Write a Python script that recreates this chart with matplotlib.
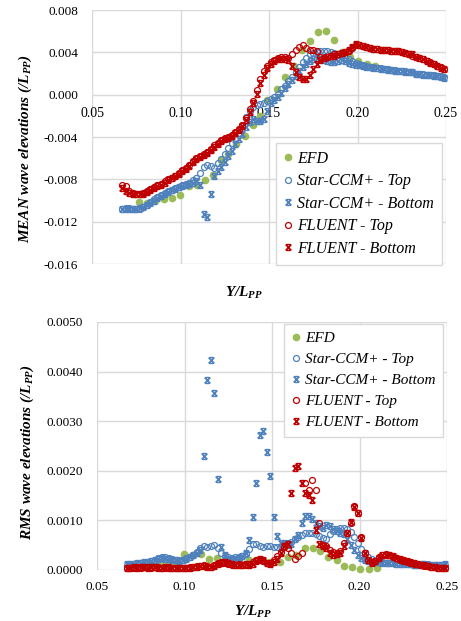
import numpy as np
import matplotlib
matplotlib.use('Agg')
import matplotlib.pyplot as plt
from matplotlib.path import Path

plt.rcParams['font.family'] = ['Liberation Serif', 'DejaVu Serif']
plt.rcParams['mathtext.fontset'] = 'custom'
plt.rcParams['mathtext.it'] = 'Liberation Serif:italic:bold'
plt.rcParams['mathtext.rm'] = 'Liberation Serif:italic:bold'
plt.rcParams['mathtext.bf'] = 'Liberation Serif:italic:bold'

# ---------------- data ----------------
X = [0.067, 0.069, 0.071, 0.073, 0.075, 0.077, 0.079, 0.081, 0.083, 0.085,
     0.087, 0.089, 0.091, 0.093, 0.095, 0.097, 0.099, 0.101, 0.103, 0.105,
     0.107, 0.109, 0.111, 0.113, 0.115, 0.117, 0.119, 0.121, 0.123, 0.125,
     0.127, 0.129, 0.131, 0.133, 0.135, 0.137, 0.139, 0.141, 0.143, 0.145,
     0.147, 0.149, 0.151, 0.153, 0.155, 0.157, 0.159, 0.161, 0.163, 0.165,
     0.167, 0.169, 0.171, 0.173, 0.175, 0.177, 0.179, 0.181, 0.183, 0.185,
     0.187, 0.189, 0.191, 0.193, 0.195, 0.197, 0.199, 0.201, 0.203, 0.205,
     0.207, 0.209, 0.211, 0.213, 0.215, 0.217, 0.219, 0.221, 0.223, 0.225,
     0.227, 0.229, 0.231, 0.233, 0.235, 0.237, 0.239, 0.241, 0.243, 0.245,
     0.247, 0.249]

EFD_X = [0.0767, 0.0812, 0.0858, 0.0905, 0.0952, 0.0999, 0.1046, 0.1093, 0.1139, 0.1185,
         0.1227, 0.1270, 0.1314, 0.1366, 0.1408, 0.1449, 0.1490, 0.1543, 0.1592, 0.1639,
         0.1686, 0.1733, 0.1775, 0.1822, 0.1869, 0.1911, 0.1958, 0.2001, 0.2052, 0.2100]

# MEAN wave elevations
EFD_MEAN = [-0.0101, -0.0102, -0.0100, -0.0099, -0.0098, -0.0095, -0.0086, -0.0085, -0.0081, -0.0076,
            -0.0062, -0.0056, -0.0047, -0.0039, -0.0029, -0.0020, -0.0005, 0.0005, 0.0017, 0.0027,
            0.0042, 0.0051, 0.0059, 0.0060, 0.0052, 0.0040, 0.0036, 0.0032, 0.0029, 0.0027]

STAR_TOP_MEAN = [-0.0108, -0.0107, -0.0107, -0.0108, -0.0108, -0.0108, -0.0106, -0.0104, -0.0101, -0.0099,
                 -0.0097, -0.0095, -0.0093, -0.0091, -0.0090, -0.0088, -0.0087, -0.0085, -0.0084, -0.0083,
                 -0.0081, -0.0079, -0.0074, -0.0068, -0.0066, -0.0067, -0.0069, -0.0065, -0.0061, -0.0056,
                 -0.0050, -0.0046, -0.0041, -0.0036, -0.0030, -0.0021, -0.0015, -0.0012, -0.0010, -0.0009,
                 -0.0008, -0.0006, -0.0004, -0.0002, 0.0001, 0.0005, 0.0008, 0.0013, 0.0017, 0.0021,
                 0.0026, 0.0031, 0.0035, 0.0038, 0.0039, 0.0040, 0.0041, 0.0041, 0.0041, 0.0040,
                 0.0039, 0.0038, 0.0037, 0.0035, 0.0034, 0.0032, 0.0030, 0.0029, 0.0028, 0.0027,
                 0.0026, 0.0026, 0.0025, 0.0025, 0.0024, 0.0024, 0.0023, 0.0023, 0.0022, 0.0022,
                 0.0022, 0.0021, 0.0021, 0.0020, 0.0020, 0.0020, 0.0019, 0.0019, 0.0019, 0.0018,
                 0.0018, 0.0017]

STAR_BOT_MEAN = [-0.0108, -0.0108, -0.0108, -0.0108, -0.0108, -0.0107, -0.0106, -0.0104, -0.0102, -0.0100,
                 -0.0098, -0.0096, -0.0094, -0.0092, -0.0090, -0.0089, -0.0087, -0.0086, -0.0085, -0.0084,
                 -0.0083, -0.0082, -0.0085, -0.0113, -0.0116, -0.0094, -0.0077, -0.0072, -0.0068, -0.0064,
                 -0.0058, -0.0053, -0.0047, -0.0042, -0.0037, -0.0031, -0.0026, -0.0023, -0.0025, -0.0025,
                 -0.0023, -0.0015, -0.0008, -0.0005, -0.0002, 0.0002, 0.0006, 0.0010, 0.0014, 0.0018,
                 0.0022, 0.0026, 0.0029, 0.0032, 0.0034, 0.0035, 0.0034, 0.0033, 0.0032, 0.0031,
                 0.0031, 0.0032, 0.0033, 0.0032, 0.0030, 0.0029, 0.0028, 0.0028, 0.0027, 0.0026,
                 0.0026, 0.0025, 0.0025, 0.0024, 0.0024, 0.0023, 0.0023, 0.0022, 0.0022, 0.0022,
                 0.0021, 0.0021, 0.0021, 0.0020, 0.0020, 0.0019, 0.0019, 0.0019, 0.0018, 0.0018,
                 0.0017, 0.0016]

FLU_TOP_MEAN = [-0.0085, -0.0086, -0.0091, -0.0093, -0.0094, -0.0094, -0.0093, -0.0091, -0.0089, -0.0087,
                -0.0085, -0.0084, -0.0082, -0.0080, -0.0079, -0.0077, -0.0074, -0.0071, -0.0069, -0.0066,
                -0.0063, -0.0060, -0.0058, -0.0056, -0.0054, -0.0051, -0.0048, -0.0046, -0.0043, -0.0041,
                -0.0040, -0.0038, -0.0035, -0.0032, -0.0029, -0.0022, -0.0014, -0.0006, 0.0004, 0.0015,
                0.0022, 0.0027, 0.0031, 0.0033, 0.0035, 0.0036, 0.0036, 0.0035, 0.0038, 0.0042,
                0.0045, 0.0047, 0.0044, 0.0042, 0.0042, 0.0041, 0.0036, 0.0035, 0.0036, 0.0037,
                0.0038, 0.0038, 0.0039, 0.0040, 0.0041, 0.0044, 0.0047, 0.0047, 0.0046, 0.0045,
                0.0044, 0.0043, 0.0043, 0.0042, 0.0042, 0.0042, 0.0041, 0.0041, 0.0041, 0.0040,
                0.0039, 0.0038, 0.0037, 0.0036, 0.0035, 0.0034, 0.0032, 0.0031, 0.0029, 0.0027,
                0.0026, 0.0024]

FLU_BOT_MEAN = [-0.0088, -0.0091, -0.0093, -0.0094, -0.0094, -0.0094, -0.0094, -0.0092, -0.0090, -0.0088,
                -0.0086, -0.0085, -0.0083, -0.0081, -0.0079, -0.0077, -0.0075, -0.0072, -0.0070, -0.0067,
                -0.0064, -0.0061, -0.0059, -0.0057, -0.0055, -0.0052, -0.0049, -0.0047, -0.0044, -0.0042,
                -0.0041, -0.0039, -0.0036, -0.0033, -0.0030, -0.0024, -0.0016, -0.0008, 0.0001, 0.0011,
                0.0019, 0.0025, 0.0029, 0.0032, 0.0034, 0.0034, 0.0034, 0.0033, 0.0027, 0.0021,
                0.0017, 0.0015, 0.0015, 0.0019, 0.0024, 0.0029, 0.0033, 0.0035, 0.0036, 0.0037,
                0.0037, 0.0038, 0.0039, 0.0040, 0.0042, 0.0045, 0.0048, 0.0047, 0.0046, 0.0045,
                0.0044, 0.0043, 0.0043, 0.0042, 0.0042, 0.0042, 0.0041, 0.0041, 0.0041, 0.0040,
                0.0039, 0.0038, 0.0038, 0.0036, 0.0035, 0.0034, 0.0032, 0.0030, 0.0029, 0.0027,
                0.0025, 0.0024]

# RMS wave elevations
EFD_RMS = [0.00010, 0.00010, 0.00012, 0.00012, 0.00015, 0.00032, 0.00030, 0.00032, 0.00023, 0.00025,
           0.00018, 0.00015, 0.00018, 0.00020, 0.00020, 0.00018, 0.00016, 0.00017, 0.00027, 0.00030,
           0.00044, 0.00045, 0.00038, 0.00027, 0.00020, 0.00009, 0.00006, 0.00003, 0.00003, 0.00004]

STAR_TOP_RMS = [0.00010, 0.00011, 0.00012, 0.00013, 0.00014, 0.00015, 0.00017, 0.00019, 0.00021, 0.00024,
                0.00026, 0.00026, 0.00025, 0.00023, 0.00021, 0.00020, 0.00021, 0.00024, 0.00027, 0.00031,
                0.00036, 0.00044, 0.00048, 0.00046, 0.00048, 0.00051, 0.00045, 0.00035, 0.00029, 0.00026,
                0.00025, 0.00026, 0.00027, 0.00029, 0.00033, 0.00042, 0.00052, 0.00053, 0.00049, 0.00047,
                0.00048, 0.00049, 0.00047, 0.00047, 0.00048, 0.00052, 0.00055, 0.00057, 0.00062, 0.00067,
                0.00071, 0.00074, 0.00075, 0.00074, 0.00073, 0.00069, 0.00065, 0.00063, 0.00072, 0.00079,
                0.00083, 0.00085, 0.00085, 0.00082, 0.00076, 0.00067, 0.00055, 0.00042, 0.00034, 0.00027,
                0.00022, 0.00019, 0.00017, 0.00016, 0.00015, 0.00014, 0.00014, 0.00013, 0.00013, 0.00012,
                0.00012, 0.00012, 0.00011, 0.00011, 0.00011, 0.00012, 0.00012, 0.00011, 0.00011, 0.00010,
                0.00010, 0.00011]

STAR_BOT_RMS = [0.00012, 0.00012, 0.00013, 0.00014, 0.00015, 0.00016, 0.00017, 0.00019, 0.00021, 0.00023,
                0.00024, 0.00023, 0.00022, 0.00021, 0.00020, 0.00019, 0.00020, 0.00022, 0.00026, 0.00030,
                0.00035, 0.00040, 0.00230, 0.00383, 0.00423, 0.00356, 0.00183, 0.00046, 0.00030, 0.00022,
                0.00020, 0.00022, 0.00025, 0.00028, 0.00035, 0.00060, 0.00107, 0.00175, 0.00272, 0.00280,
                0.00238, 0.00189, 0.00107, 0.00068, 0.00055, 0.00055, 0.00050, 0.00052, 0.00062, 0.00070,
                0.00095, 0.00108, 0.00108, 0.00102, 0.00095, 0.00088, 0.00085, 0.00090, 0.00088, 0.00082,
                0.00078, 0.00075, 0.00072, 0.00062, 0.00050, 0.00040, 0.00030, 0.00024, 0.00020, 0.00018,
                0.00017, 0.00016, 0.00016, 0.00015, 0.00015, 0.00014, 0.00014, 0.00013, 0.00013, 0.00012,
                0.00012, 0.00012, 0.00011, 0.00011, 0.00012, 0.00012, 0.00011, 0.00011, 0.00010, 0.00010,
                0.00010, 0.00012]

FLU_TOP_RMS = [0.00004, 0.00005, 0.00005, 0.00006, 0.00005, 0.00006, 0.00006, 0.00005, 0.00006, 0.00006,
               0.00005, 0.00005, 0.00006, 0.00005, 0.00004, 0.00005, 0.00004, 0.00005, 0.00006, 0.00007,
               0.00008, 0.00009, 0.00010, 0.00008, 0.00007, 0.00010, 0.00014, 0.00016, 0.00015, 0.00013,
               0.00011, 0.00011, 0.00012, 0.00010, 0.00011, 0.00012, 0.00016, 0.00020, 0.00021, 0.00018,
               0.00014, 0.00015, 0.00020, 0.00028, 0.00037, 0.00047, 0.00045, 0.00035, 0.00022, 0.00028,
               0.00034, 0.00176, 0.00161, 0.00181, 0.00162, 0.00094, 0.00050, 0.00048, 0.00040, 0.00036,
               0.00035, 0.00038, 0.00054, 0.00074, 0.00095, 0.00130, 0.00114, 0.00067, 0.00035, 0.00020,
               0.00016, 0.00019, 0.00026, 0.00031, 0.00032, 0.00030, 0.00027, 0.00024, 0.00021, 0.00019,
               0.00017, 0.00015, 0.00013, 0.00012, 0.00010, 0.00009, 0.00008, 0.00007, 0.00006, 0.00005,
               0.00005, 0.00004]

FLU_BOT_RMS = [0.00005, 0.00005, 0.00006, 0.00005, 0.00006, 0.00006, 0.00005, 0.00006, 0.00006, 0.00005,
               0.00005, 0.00006, 0.00005, 0.00004, 0.00005, 0.00004, 0.00004, 0.00005, 0.00005, 0.00006,
               0.00007, 0.00008, 0.00008, 0.00007, 0.00006, 0.00009, 0.00012, 0.00015, 0.00016, 0.00014,
               0.00012, 0.00010, 0.00010, 0.00011, 0.00012, 0.00010, 0.00013, 0.00018, 0.00022, 0.00020,
               0.00015, 0.00013, 0.00016, 0.00022, 0.00035, 0.00048, 0.00052, 0.00156, 0.00205, 0.00210,
               0.00176, 0.00156, 0.00152, 0.00142, 0.00080, 0.00052, 0.00048, 0.00045, 0.00035, 0.00030,
               0.00032, 0.00035, 0.00048, 0.00074, 0.00097, 0.00128, 0.00114, 0.00064, 0.00035, 0.00020,
               0.00015, 0.00018, 0.00025, 0.00030, 0.00031, 0.00030, 0.00028, 0.00025, 0.00022, 0.00020,
               0.00018, 0.00016, 0.00014, 0.00012, 0.00011, 0.00010, 0.00008, 0.00007, 0.00006, 0.00005,
               0.00005, 0.00005]

SERIES = ['EFD', 'Star-CCM+ - Top', 'Star-CCM+ - Bottom', 'FLUENT - Top', 'FLUENT - Bottom']

X_TICKS = [0.05, 0.10, 0.15, 0.20, 0.25]
X_TICK_LABELS = ['0.05', '0.10', '0.15', '0.20', '0.25']
MEAN_TICKS = [-0.016, -0.012, -0.008, -0.004, 0.000, 0.004, 0.008]
MEAN_TICK_LABELS = ['-0.016', '-0.012', '-0.008', '-0.004', '0.000', '0.004', '0.008']
RMS_TICKS = [0.0, 0.001, 0.002, 0.003, 0.004, 0.005]
RMS_TICK_LABELS = ['0.0000', '0.0010', '0.0020', '0.0030', '0.0040', '0.0050']

# ---------------- style ----------------
GREEN = '#9BBB59'
BLUE = '#4F81BD'
RED = '#C00000'
GRID = '#d9d9d9'

hour = Path([(-1, -1), (1, 1), (-1, 1), (1, -1), (-0.7, 1), (0.7, 1), (-0.7, -1), (0.7, -1)],
            [Path.MOVETO, Path.LINETO, Path.MOVETO, Path.LINETO,
             Path.MOVETO, Path.LINETO, Path.MOVETO, Path.LINETO])

fig = plt.figure(figsize=(4.61, 6.21), dpi=100)
ax1 = fig.add_axes([92 / 461, 1 - 264 / 621, 354 / 461, 254 / 621])
ax2 = fig.add_axes([97 / 461, 1 - 570 / 621, 350 / 461, 248 / 621])


def draw(ax, efd, st, sb, ft, fb):
    ax.plot(EFD_X, efd, 'o', ms=4.5, color=GREEN, mec=GREEN, ls='none', label=SERIES[0], clip_on=False)
    ax.plot(X, st, 'o', ms=4.3, mfc='none', mec=BLUE, mew=0.9, ls='none', label=SERIES[1], clip_on=False)
    ax.plot(X, sb, marker=hour, ms=4.2, mfc='none', mec=BLUE, mew=1.1, ls='none', label=SERIES[2], clip_on=False)
    ax.plot(X, ft, 'o', ms=4.3, mfc='none', mec=RED, mew=0.9, ls='none', label=SERIES[3], clip_on=False)
    ax.plot(X, fb, marker=hour, ms=4.2, mfc='none', mec=RED, mew=1.1, ls='none', label=SERIES[4], clip_on=False)


draw(ax1, EFD_MEAN, STAR_TOP_MEAN, STAR_BOT_MEAN, FLU_TOP_MEAN, FLU_BOT_MEAN)
draw(ax2, EFD_RMS, STAR_TOP_RMS, STAR_BOT_RMS, FLU_TOP_RMS, FLU_BOT_RMS)

for ax in (ax1, ax2):
    ax.set_xlim(0.05, 0.25)
    ax.set_xticks(X_TICKS)
    ax.set_xticklabels(X_TICK_LABELS, fontsize=9.5)
    for s in ax.spines.values():
        s.set_visible(False)
    ax.grid(True, color=GRID, lw=1.0)
    ax.set_axisbelow(True)
    ax.tick_params(length=0)
    ax.tick_params(axis='y', pad=10, labelsize=9.5)

ax1.set_ylim(-0.016, 0.008)
ax1.set_yticks(MEAN_TICKS)
ax1.set_yticklabels(MEAN_TICK_LABELS)
ax1.spines['bottom'].set_position(('data', 0))
ax1.tick_params(axis='x', pad=9)

ax2.set_ylim(0, 0.005)
ax2.set_yticks(RMS_TICKS)
ax2.set_yticklabels(RMS_TICK_LABELS)
ax2.tick_params(axis='x', pad=8)


def leg_kw(size):
    return dict(frameon=True, fancybox=False, edgecolor=GRID, framealpha=1,
                handlelength=0.5, handletextpad=0.35, borderpad=0.5, borderaxespad=0,
                prop={'family': 'Liberation Serif', 'style': 'italic', 'size': size})


l1 = ax1.legend(loc='upper right', bbox_to_anchor=(0.989, 0.476), labelspacing=0.4, **leg_kw(11.5))
l2 = ax2.legend(loc='upper right', bbox_to_anchor=(0.989, 0.992), labelspacing=0.48, **leg_kw(11))
for l in (l1, l2):
    l.get_frame().set_linewidth(1.0)

lab = dict(fontsize=11, fontweight='bold', fontstyle='italic', ha='center', va='center')
fig.text(244 / 461, 1 - 293 / 621, 'Y/L$_{PP}$', **lab)
fig.text(253 / 461, 1 - 612 / 621, 'Y/L$_{PP}$', **lab)
fig.text(25 / 461, 1 - 149 / 621, 'MEAN wave elevations (/L$_{PP}$)', rotation=90, **lab)
fig.text(27 / 461, 1 - 452 / 621, 'RMS wave elevations (/L$_{PP}$)', rotation=90, **lab)

fig.savefig('out.png', dpi=100)
